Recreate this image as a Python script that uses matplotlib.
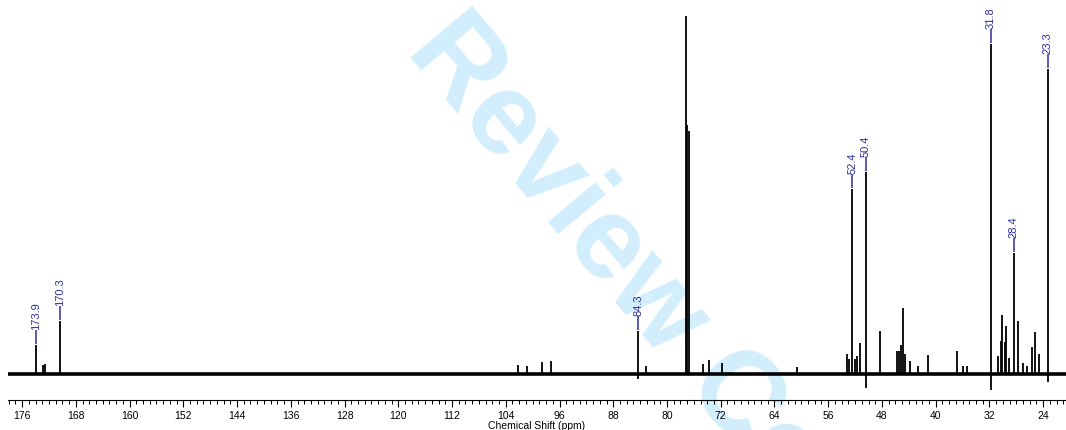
import matplotlib.pyplot as plt
from matplotlib.ticker import MultipleLocator

# 13C spectrum, peak list (ppm, intensity)
peak_ppm = [173.9, 172.9, 172.65, 170.3, 102.2, 100.9, 98.6, 97.25, 84.3, 83.1,
            77.1, 76.95, 76.7, 74.6, 73.8, 71.8, 60.7, 53.2, 52.9, 52.4, 52.0,
            51.7, 51.2, 50.4, 48.3, 45.8, 45.5, 45.2, 44.9, 44.6, 43.8, 42.6,
            41.1, 36.9, 36.0, 35.4, 31.8, 30.7, 30.35, 30.1, 29.75, 29.5, 29.1,
            28.4, 27.8, 27.0, 26.35, 25.65, 25.2, 24.65, 23.3]
peak_int = [29, 9, 10, 53, 9, 8, 12, 13, 43, 8,
            358, 249, 243, 10, 14, 11, 7, 20, 15, 185, 15,
            18, 31, 202, 43, 23, 23, 29, 66, 20, 13, 8,
            19, 23, 8, 8, 330, 18, 33, 59, 32, 48, 16,
            121, 53, 11, 8, 27, 42, 20, 305]

# phase dips below the baseline
dip_ppm = [84.3, 50.4, 31.8, 23.3]
dip_int = [-5, -14, -16, -8]

# picked peaks
label_ppm = [173.9, 170.3, 84.3, 52.4, 50.4, 31.8, 28.4, 23.3]

plt.rcParams['font.family'] = ['Liberation Sans', 'DejaVu Sans']
blue = "#2e2e9e"

fig = plt.figure(figsize=(10.66, 4.31), dpi=100)
ax = fig.add_axes([0.0075, 30 / 431, 0.9925, 401 / 431])
ax.patch.set_alpha(0)

fig.text(0.379, 0.880, "Review Copy", fontsize=84, fontweight="bold",
         color="#d2eefc", rotation=-50, rotation_mode="anchor",
         ha="left", va="baseline", zorder=-1)

xmin, xmax = 178.1, 20.6
ax.hlines(0, xmax, xmin, color="black", lw=2.6)
ax.vlines(peak_ppm, 0, peak_int, color="black", lw=1.3)
ax.vlines(dip_ppm, dip_int, 0, color="black", lw=1.3)

# peak-pick labels: short blue tick above the peak, then the shift value
lookup = dict(zip(peak_ppm, peak_int))
for p in label_ppm:
    top = lookup[p]
    ax.vlines(p, top + 1, top + 15, color=blue, lw=1.1)
    ax.text(p, top + 16, f"{p:.1f}", rotation=90,
            ha="center", va="bottom", fontsize=8, color=blue)

ax.set_xlim(xmin, xmax)
ax.set_ylim(-26, 375)
ax.xaxis.set_major_locator(MultipleLocator(8))
ax.xaxis.set_minor_locator(MultipleLocator(1))
ax.tick_params(axis="x", which="major", length=5, width=0.8, labelsize=7.5, pad=2)
ax.tick_params(axis="x", which="minor", length=3, width=0.7)
ax.set_yticks([])
for s in ["left", "right", "top"]:
    ax.spines[s].set_visible(False)
ax.spines["bottom"].set_linewidth(0.8)
ax.set_xlabel("Chemical Shift (ppm)", fontsize=7.5, labelpad=0)

fig.savefig("out.png", dpi=100)
